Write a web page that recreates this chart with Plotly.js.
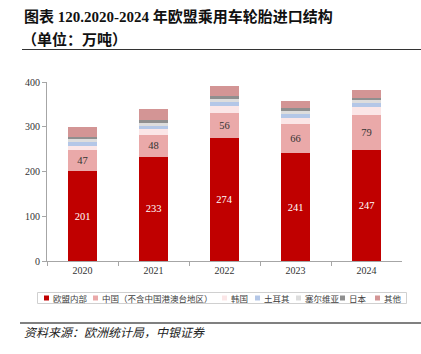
<!DOCTYPE html>
<html><head><meta charset="utf-8">
<script src="https://cdn.plot.ly/plotly-3.0.1.min.js"></script>
<style>html,body{margin:0;padding:0;background:#fff}#chart{width:421px;height:354px}</style>
</head><body><div id="chart"></div>
<script>
// ---- data ----
const years = ['2020', '2021', '2022', '2023', '2024'];
const seriesNames = ['欧盟内部', '中国（不含中国港澳台地区）', '韩国', '土耳其', '塞尔维亚', '日本', '其他'];
const euInternal = [201, 233, 274, 241, 247];
const china      = [47, 48, 56, 66, 79];
const korea      = [10, 13, 16, 13, 19];
const turkey     = [8, 8, 10, 9, 8];
const serbia     = [6, 7, 7, 7, 7];
const japan      = [4, 5, 6, 5, 5];
const others     = [24, 26, 22, 16, 18];
const yTicks     = [0, 100, 200, 300, 400];

const seriesValues = [euInternal, china, korea, turkey, serbia, japan, others];
const colors = ['#C00000', '#EAA9A9', '#FBE6E7', '#B4C7E7', '#DDDDDD', '#8F8F8F', '#D39595'];

const W = 421, H = 354;
const px = x => x / W;
const py = y => 1 - y / H;

const serif = 'Liberation Serif, "Times New Roman", serif';
const cjk = 'Liberation Serif, "Noto Sans CJK SC", serif';

const traces = seriesNames.map((name, i) => {
  const t = {
    type: 'bar', name: name, x: years, y: seriesValues[i],
    marker: {color: colors[i], line: {width: 0}},
    hoverinfo: 'skip', showlegend: false
  };
  if (i === 0 || i === 1) {
    t.text = seriesValues[i].map(String);
    t.textposition = 'inside';
    t.insidetextanchor = 'middle';
    t.textangle = 0;
    t.constraintext = 'none';
    t.textfont = {family: serif, size: 10.5, color: i === 0 ? '#ffffff' : '#333333'};
  } else {
    t.textposition = 'none';
  }
  return t;
});

// custom legend (built from series names / colours)
const legendX = [44, 93, 222, 255, 296, 340, 375];
const legendY = 298;
const shapes = [
  {type: 'line', xref: 'paper', yref: 'paper', x0: px(22), x1: px(421), y0: py(49.5), y1: py(49.5), line: {color: '#333333', width: 1}},
  {type: 'line', xref: 'paper', yref: 'paper', x0: px(20), x1: px(421), y0: py(323), y1: py(323), line: {color: '#808080', width: 2}},
  {type: 'rect', xref: 'paper', yref: 'paper', x0: px(37.5), x1: px(406.5), y0: py(292.5), y1: py(303.5), line: {color: '#D0D0D0', width: 1}, fillcolor: 'rgba(0,0,0,0)'}
];
const annotations = [
  {xref: 'paper', yref: 'paper', x: px(22), y: py(17), xanchor: 'left', yanchor: 'middle', showarrow: false,
   text: '<b>图表 120.2020-2024 年欧盟乘用车轮胎进口结构</b>', font: {family: cjk, size: 15, color: '#111111'}},
  {xref: 'paper', yref: 'paper', x: px(20), y: py(39), xanchor: 'left', yanchor: 'middle', showarrow: false,
   text: '<b>（单位：万吨）</b>', font: {family: cjk, size: 15, color: '#111111'}},
  {xref: 'paper', yref: 'paper', x: px(22), y: py(333), xanchor: 'left', yanchor: 'middle', showarrow: false,
   text: '<i>资料来源：欧洲统计局，中银证券</i>', font: {family: cjk, size: 12, color: '#222222'}}
];
seriesNames.forEach((name, i) => {
  shapes.push({type: 'rect', xref: 'paper', yref: 'paper',
    x0: px(legendX[i]), x1: px(legendX[i] + 5), y0: py(legendY + 2.5), y1: py(legendY - 2.5),
    line: {width: 0}, fillcolor: colors[i]});
  annotations.push({xref: 'paper', yref: 'paper', x: px(legendX[i] + 7), y: py(legendY), xanchor: 'left', yanchor: 'middle',
    showarrow: false, text: name, font: {family: '"Noto Sans CJK SC", sans-serif', size: 8.5, color: '#404040'}});
});

const layout = {
  width: W, height: H,
  margin: {l: 0, r: 0, t: 0, b: 0, pad: 0},
  paper_bgcolor: '#ffffff', plot_bgcolor: '#ffffff',
  barmode: 'stack', bargap: 0.6,
  showlegend: false,
  xaxis: {
    domain: [px(47), px(402)], anchor: 'y',
    type: 'category', showgrid: false, zeroline: false,
    showline: true, linecolor: '#A6A6A6', linewidth: 1,
    ticks: 'outside', tickson: 'boundaries', ticklen: 4, tickcolor: '#A6A6A6',
    tickfont: {family: serif, size: 10, color: '#333333'}
  },
  yaxis: {
    domain: [py(261), py(82)], anchor: 'x',
    range: [0, 400], tickvals: yTicks, ticktext: yTicks.map(String),
    showgrid: false, zeroline: false,
    showline: true, linecolor: '#A6A6A6', linewidth: 1,
    ticks: 'outside', ticklen: 4, tickcolor: '#A6A6A6',
    tickfont: {family: serif, size: 10, color: '#333333'}
  },
  shapes: shapes,
  annotations: annotations
};

Plotly.newPlot('chart', traces, layout, {displayModeBar: false, staticPlot: true});
</script></body></html>
